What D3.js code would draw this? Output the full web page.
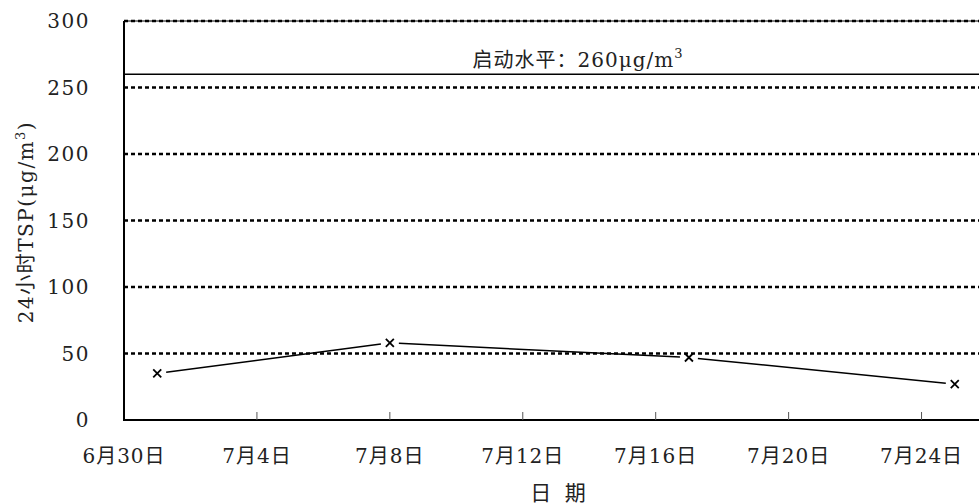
<!DOCTYPE html>
<html><head><meta charset="utf-8">
<script src="https://cdn.jsdelivr.net/npm/d3@7/dist/d3.min.js"></script>
<style>body{margin:0;background:#fff}svg{display:block}text{font-family:"DejaVu Serif","Liberation Serif","Noto Sans CJK SC",serif;fill:#222}</style>
</head><body><svg id="c" width="979" height="504"></svg>
<script>
const dates = ["2000-07-01","2000-07-08","2000-07-17","2000-07-25"];
const values = [35, 58, 47, 27];
const yTicks = [0,50,100,150,200,250,300];
const xTickDates = ["2000-06-30","2000-07-04","2000-07-08","2000-07-12","2000-07-16","2000-07-20","2000-07-24"];
const xTickLabels = ["6月30日","7月4日","7月8日","7月12日","7月16日","7月20日","7月24日"];
const threshold = 260;
const thresholdLabel = "启动水平：260μg/m";

const parse = d3.utcParse("%Y-%m-%d");
const svg = d3.select("#c");
const x = d3.scaleUtc().domain([parse("2000-06-30"), parse("2000-07-26")]).range([124, 988]);
const y = d3.scaleLinear().domain([0,300]).range([420,21]);

// gridlines
const g = svg.append("g");
yTicks.filter(v=>v>0).forEach(v=>{
  g.append("line").attr("x1",124).attr("x2",979).attr("y1",y(v)).attr("y2",y(v))
   .attr("stroke","#000").attr("stroke-width",2.5).attr("stroke-dasharray","4,3");
});
g.append("line").attr("x1",124).attr("x2",979).attr("y1",y(300)).attr("y2",y(300)).attr("stroke","#000").attr("stroke-width",1);

// threshold
svg.append("line").attr("x1",124).attr("x2",979).attr("y1",y(threshold)).attr("y2",y(threshold)).attr("stroke","#000").attr("stroke-width",1.5);
const tl = svg.append("text").attr("x",578).attr("y",y(threshold)-7).attr("text-anchor","middle").attr("font-size",20).attr("letter-spacing",1);
tl.append("tspan").text(thresholdLabel);
tl.append("tspan").attr("dy",-9).attr("font-size",13).text("3");

// y axis labels
yTicks.forEach(v=>{
  svg.append("text").attr("x",90).attr("y",y(v)+7).attr("text-anchor","end").attr("font-size",20).attr("letter-spacing",1.5).text(v);
});

// axes lines
svg.append("line").attr("x1",124).attr("x2",124).attr("y1",y(300)).attr("y2",421).attr("stroke","#000").attr("stroke-width",2);
svg.append("line").attr("x1",123).attr("x2",979).attr("y1",420).attr("y2",420).attr("stroke","#000").attr("stroke-width",2);

// x ticks
xTickDates.forEach((d,i)=>{
  const px = x(parse(d));
  if(i>0) svg.append("line").attr("x1",px).attr("x2",px).attr("y1",420).attr("y2",412).attr("stroke","#555").attr("stroke-width",1);
  svg.append("text").attr("x",px).attr("y",463).attr("text-anchor","middle").attr("font-size",20).attr("letter-spacing",1).text(xTickLabels[i]);
});

// axis titles
svg.append("text").attr("x",558).attr("y",500).attr("text-anchor","middle").attr("font-size",21).style("white-space","pre").text("日  期");
const yt = svg.append("text").attr("transform","translate(33,222) rotate(-90)").attr("text-anchor","middle").attr("font-size",20).attr("letter-spacing",1.5);
yt.append("tspan").text("24小时TSP(μg/m");
yt.append("tspan").attr("dy",-8).attr("font-size",13).text("3");
yt.append("tspan").attr("dy",8).text(")");

// data line with gaps near markers
const pts = dates.map((d,i)=>[x(parse(d)), y(values[i])]);
const gap = 9;
for(let i=0;i<pts.length-1;i++){
  const [x1,y1]=pts[i],[x2,y2]=pts[i+1];
  const L=Math.hypot(x2-x1,y2-y1), ux=(x2-x1)/L, uy=(y2-y1)/L;
  svg.append("line").attr("x1",x1+ux*gap).attr("y1",y1+uy*gap).attr("x2",x2-ux*gap).attr("y2",y2-uy*gap)
    .attr("stroke","#000").attr("stroke-width",1.5);
}
const s=4;
pts.forEach(([px,py])=>{
  svg.append("path").attr("d",`M${px-s},${py-s}L${px+s},${py+s}M${px-s},${py+s}L${px+s},${py-s}`)
    .attr("stroke","#000").attr("stroke-width",1.8);
});
</script></body></html>
